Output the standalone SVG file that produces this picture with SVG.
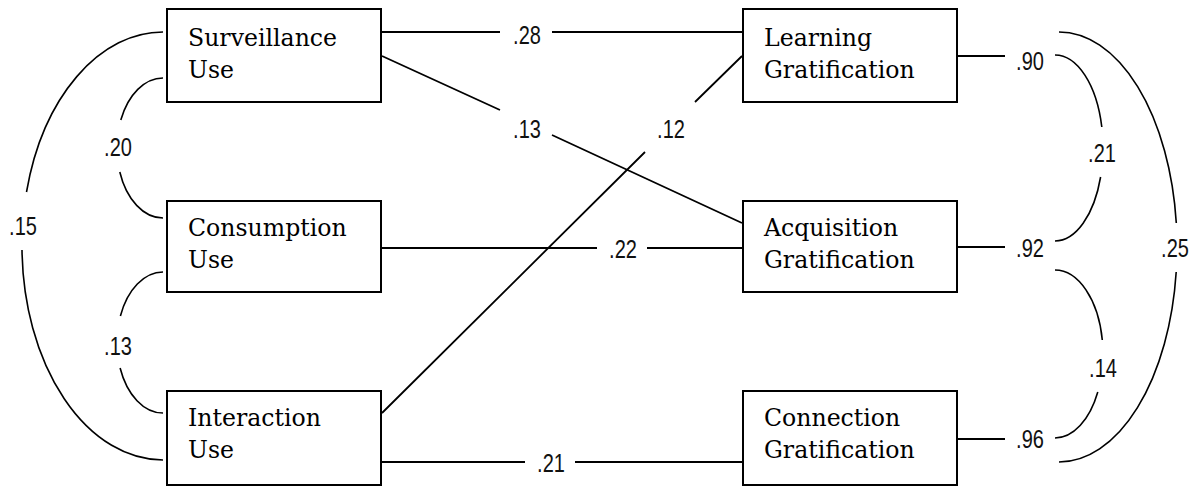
<svg xmlns="http://www.w3.org/2000/svg" width="1196" height="489" viewBox="0 0 1196 489">
<style>
.box{fill:#fff;stroke:#000;stroke-width:2}
.nt{font-family:"DejaVu Serif","Liberation Serif",serif;font-size:23.6px;fill:#000}
.ln{fill:none;stroke:#000;stroke-width:1.8}
.cv{fill:none;stroke:#000;stroke-width:1.6}
.lb{font-family:"Liberation Sans",Arial,sans-serif;font-size:25px;fill:#111;text-anchor:middle}
</style>
<rect width="1196" height="489" fill="#fff"/>
<g id="connectors">
<path class="ln" d="M382,32 H500 M552,32 H742"/>
<path class="ln" d="M382,56 L500,110 M552,135 L742,223"/>
<path class="ln" d="M382,413 L645,152 M695,102 L742,56"/>
<path class="ln" d="M382,248 H597 M647,248 H742"/>
<path class="ln" d="M382,462 H525 M575,462 H742"/>
<path class="ln" d="M958,56 H1005 M958,247 H1005 M958,439 H1005"/>
<path class="cv" d="M163,32 A141,214 0 0 0 26.5,192 M22,250 A141,214 0 0 0 163,460"/>
<path class="cv" d="M163,78 A46,70 0 0 0 120.8,120 M119.8,172 A46,70 0 0 0 163,218"/>
<path class="cv" d="M163,272 A46,70.5 0 0 0 120.4,316 M120.1,368 A46,70.5 0 0 0 163,413"/>
<path class="cv" d="M1055,55 A48,93 0 0 1 1101.8,127 M1100.6,177 A48,93 0 0 1 1055,241"/>
<path class="cv" d="M1055,270 A48,84 0 0 1 1102.3,340 M1097.8,392 A48,84 0 0 1 1055,438"/>
<path class="cv" d="M1059,32 A118,215 0 0 1 1176.3,223 M1176.2,272 A118,215 0 0 1 1059,462"/>
<text class="lb" transform="translate(23,235) scale(0.8,1)">.15</text>
<text class="lb" transform="translate(118,156) scale(0.8,1)">.20</text>
<text class="lb" transform="translate(118,355) scale(0.8,1)">.13</text>
<text class="lb" transform="translate(527,44) scale(0.8,1)">.28</text>
<text class="lb" transform="translate(527,138) scale(0.8,1)">.13</text>
<text class="lb" transform="translate(671,138) scale(0.8,1)">.12</text>
<text class="lb" transform="translate(623,258) scale(0.8,1)">.22</text>
<text class="lb" transform="translate(551,472) scale(0.8,1)">.21</text>
<text class="lb" transform="translate(1030,70) scale(0.8,1)">.90</text>
<text class="lb" transform="translate(1102,162) scale(0.8,1)">.21</text>
<text class="lb" transform="translate(1030,257) scale(0.8,1)">.92</text>
<text class="lb" transform="translate(1175,257) scale(0.8,1)">.25</text>
<text class="lb" transform="translate(1103,377) scale(0.8,1)">.14</text>
<text class="lb" transform="translate(1030,448) scale(0.8,1)">.96</text>
</g>
<g id="surveillance">
<rect class="box" x="167" y="9" width="214" height="93"/>
<text class="nt" x="188" y="45.5">Surveillance</text>
<text class="nt" x="188" y="77.5">Use</text>
</g>
<g id="consumption">
<rect class="box" x="167" y="201" width="214" height="91"/>
<text class="nt" x="188" y="235.5">Consumption</text>
<text class="nt" x="188" y="267.5">Use</text>
</g>
<g id="interaction">
<rect class="box" x="167" y="391" width="214" height="94"/>
<text class="nt" x="188" y="425.5">Interaction</text>
<text class="nt" x="188" y="457.5">Use</text>
</g>
<g id="learning">
<rect class="box" x="743" y="9" width="214" height="93"/>
<text class="nt" x="764" y="45.5">Learning</text>
<text class="nt" x="764" y="77.5">Gratification</text>
</g>
<g id="acquisition">
<rect class="box" x="743" y="201" width="214" height="91"/>
<text class="nt" x="764" y="235.5">Acquisition</text>
<text class="nt" x="764" y="267.5">Gratification</text>
</g>
<g id="connection">
<rect class="box" x="743" y="391" width="214" height="94"/>
<text class="nt" x="764" y="425.5">Connection</text>
<text class="nt" x="764" y="457.5">Gratification</text>
</g>
</svg>
